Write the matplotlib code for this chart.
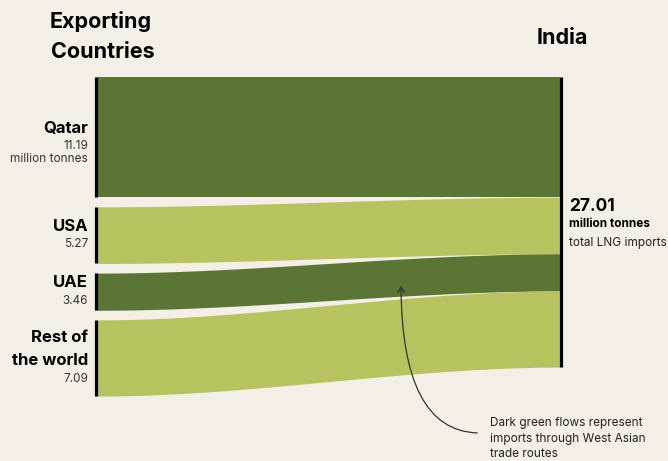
import numpy as np
import matplotlib.pyplot as plt
from matplotlib.patches import FancyArrowPatch

plt.rcParams['font.family'] = ['Inter', 'DejaVu Sans']

# Data (million tonnes of LNG imported by India)
paises = ['Qatar', 'USA', 'UAE', 'Rest of\nthe world']
valores = [11.19, 5.27, 3.46, 7.09]
etiquetas = ['11.19\nmillion tonnes', '5.27', '3.46', '7.09']
oeste_asia = [True, False, True, False]  # rutas por Asia Occidental
total = 27.01

fondo = '#f3efe6'
verde_oscuro = '#5b7634'
verde_claro = '#b6c35e'

fig = plt.figure(figsize=(6.68, 4.61), dpi=100)
fig.patch.set_facecolor(fondo)
ax = fig.add_axes([0, 0, 1, 1])
ax.set_facecolor(fondo)

# x en pixeles, y en millones de toneladas (10.74 px por unidad)
px_u = 10.74
ax.set_xlim(0, 668)
ax.set_ylim((461 - 77) / px_u, -77 / px_u)
ax.axis('off')


def u(px):
    # distancia en pixeles -> unidades del eje y
    return px / px_u


x_izq, x_der = 97, 560
hueco = 0.9

x = np.linspace(x_izq, x_der, 300)
t = (x - x_izq) / (x_der - x_izq)
s = 3 * t**2 - 2 * t**3

acum = 0.0
for i, (pais, v, etq, oscuro) in enumerate(zip(paises, valores, etiquetas, oeste_asia)):
    izq_top = acum + i * hueco
    der_top = acum
    top = izq_top + (der_top - izq_top) * s
    color = verde_oscuro if oscuro else verde_claro
    ax.fill_between(x, top, top + v, color=color, lw=0)
    # barra negra izquierda por segmento
    ax.vlines(x_izq - 1, izq_top, izq_top + v, color='black', lw=2.3)

    # etiquetas: nombre (negrita) y valor
    centro = izq_top + v / 2
    lineas_nombre = pais.split('\n')
    lineas_valor = etq.split('\n')
    alto = u(23) * (len(lineas_nombre) - 1) + u(18)
    y = centro - alto / 2
    for ln in lineas_nombre:
        ax.text(88, y, ln, ha='right', va='center', fontsize=12,
                fontweight='bold')
        y += u(23)
    y += u(18) - u(23)
    for ln in lineas_valor:
        ax.text(88, y, ln, ha='right', va='center', fontsize=8.5,
                color='#333333')
        y += u(12.5)
    acum += v

# barra negra derecha
ax.vlines(x_der + 1, 0, total, color='black', lw=2.3)

# titulos
ax.text(101, u(22 - 77), 'Exporting', ha='center', va='center',
        fontsize=15.5, fontweight='bold')
ax.text(103, u(52 - 77), 'Countries', ha='center', va='center',
        fontsize=15.5, fontweight='bold')
ax.text(562, u(38 - 77), 'India', ha='center', va='center', fontsize=15.5,
        fontweight='bold')

# total a la derecha
ax.text(569, u(206 - 77), f'{total:.2f}', ha='left', va='center', fontsize=12.5,
        fontweight='bold')
ax.text(569, u(224 - 77), 'million tonnes', ha='left', va='center', fontsize=8.5,
        fontweight='bold')
ax.text(569, u(243 - 77), 'total LNG imports', ha='left', va='center', fontsize=8.5,
        color='#222222')

# anotacion
nota = ['Dark green flows represent', 'imports through West Asian', 'trade routes']
for k, ln in enumerate(nota):
    ax.text(490, u(423 + 15.5 * k - 77), ln, ha='left', va='center',
            fontsize=8.5, color='#222222')
flecha = FancyArrowPatch((480, u(433 - 77)), (401, u(283 - 77)),
                         connectionstyle='angle3,angleA=0,angleB=90',
                         arrowstyle='->,head_length=4,head_width=2.5',
                         color='#333333', lw=0.9)
ax.add_patch(flecha)

fig.savefig('out.png', dpi=100, facecolor=fondo)
